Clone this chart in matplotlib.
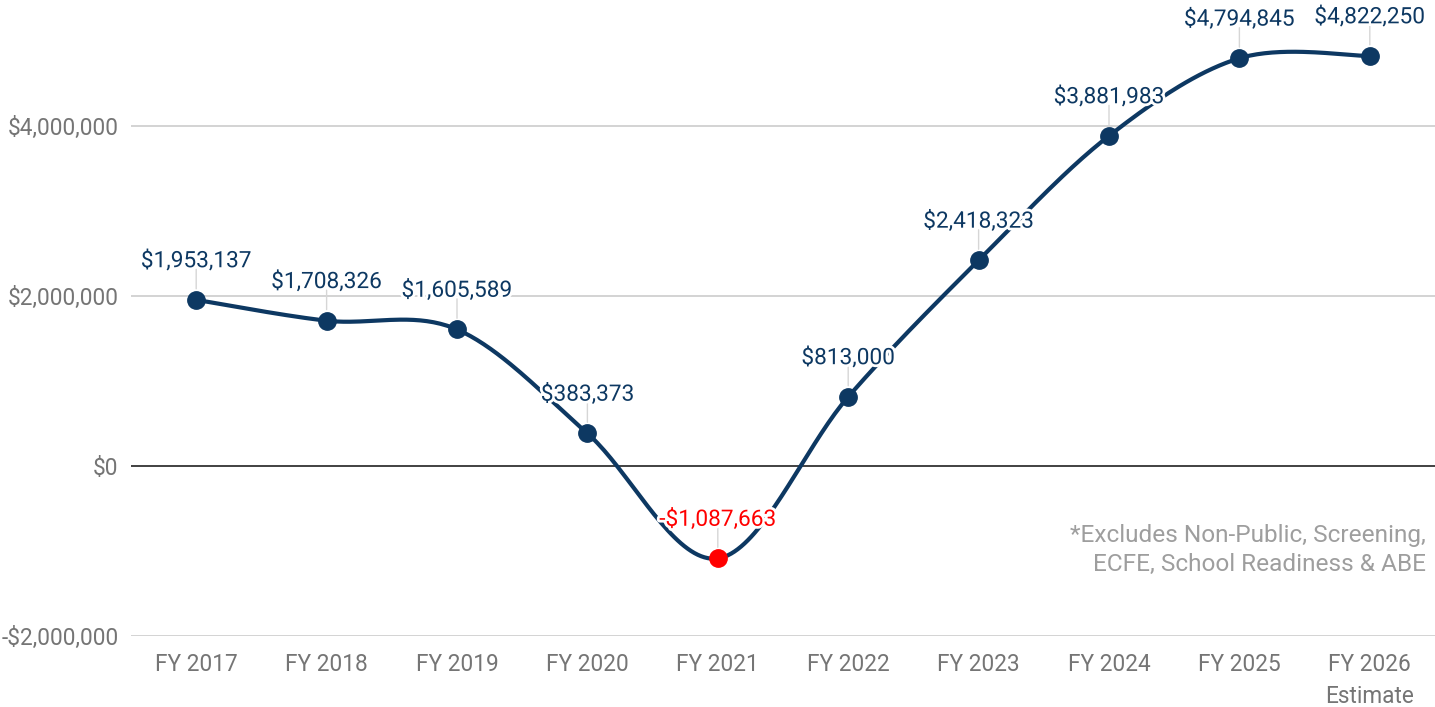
import numpy as np
import matplotlib
matplotlib.use("Agg")
import matplotlib.pyplot as plt
import matplotlib.patheffects as pe
from matplotlib.ticker import FuncFormatter

categories = ["FY 2017", "FY 2018", "FY 2019", "FY 2020", "FY 2021",
              "FY 2022", "FY 2023", "FY 2024", "FY 2025", "FY 2026\nEstimate"]
values = [1953137, 1708326, 1605589, 383373, -1087663,
          813000, 2418323, 3881983, 4794845, 4822250]
yticks = [-2000000, 0, 2000000, 4000000]
note = "*Excludes Non-Public, Screening,\nECFE, School Readiness & ABE"

NAVY = "#0d3862"
RED = "#ff0000"
GRID = "#cccccc"
TICK = "#757575"

plt.rcParams['font.family'] = ['Roboto', 'DejaVu Sans']

fig = plt.figure(figsize=(14.35, 7.07), dpi=100)
ax = fig.add_axes([131/1435, 71/707, 1 - 131/1435, 1 - 71/707])
ax.set_xlim(-0.5, len(values) - 0.5)
ax.set_ylim(-2000000, 5480000)

# smooth curve (cardinal spline computed in display-proportional units)
x = np.arange(len(values), dtype=float)
y = np.array(values, dtype=float)
sx, sy = 130.5, 85e-6
P = np.column_stack([x * sx, y * sy])
n = len(P)
T = np.zeros_like(P)
for i in range(n):
    a = P[max(i - 1, 0)]
    b = P[min(i + 1, n - 1)]
    T[i] = (b - a) / 2.0
pts = []
tt = np.linspace(0, 1, 40)
for i in range(n - 1):
    p0, p3 = P[i], P[i + 1]
    p1 = p0 + T[i] / 3.0
    p2 = p3 - T[i + 1] / 3.0
    for t in tt:
        q = ((1 - t) ** 3) * p0 + 3 * ((1 - t) ** 2) * t * p1 + 3 * (1 - t) * t ** 2 * p2 + t ** 3 * p3
        pts.append(q)
pts = np.array(pts)

for yt in yticks:
    if yt == 0:
        ax.axhline(yt, color="#333333", lw=1.3, zorder=1)
    else:
        ax.axhline(yt, color=GRID, lw=1.2, zorder=1)

ax.plot(pts[:, 0] / sx, pts[:, 1] / sy, color=NAVY, lw=3.0, zorder=3,
        solid_capstyle='round')

colors = [RED if v < 0 else NAVY for v in values]
for xi, v, c in zip(x, values, colors):
    ax.annotate("", xy=(xi, v), xytext=(0, 22), textcoords="offset points",
                arrowprops=dict(arrowstyle='-', color="#d6d6d6", lw=1.0,
                                shrinkA=0, shrinkB=8), zorder=2)
    ax.plot([xi], [v], 'o', ms=12.5, color=c, mec=c, zorder=5)
    lab = ("-$" if v < 0 else "$") + f"{abs(v):,}"
    ax.annotate(lab, xy=(xi, v), xytext=(0, 23.5), textcoords="offset points",
                ha='center', va='baseline', fontsize=16.3, color=c, zorder=6,
                path_effects=[pe.withStroke(linewidth=4, foreground='white')])

ax.set_yticks(yticks)
ax.yaxis.set_major_formatter(FuncFormatter(
    lambda v, p: ("-$" if v < 0 else "$") + f"{abs(int(v)):,}"))
ax.set_xticks(x)
ax.set_xticklabels(categories, linespacing=1.5)
ax.tick_params(axis='both', length=0, labelsize=16.3, labelcolor=TICK)
ax.tick_params(axis='y', pad=9)
ax.tick_params(axis='x', pad=12)
for s in ax.spines.values():
    s.set_visible(False)
ax.grid(False)

ax.text(0.993, 0.135, note, transform=ax.transAxes, ha='right', va='center',
        fontsize=17.6, color="#9e9e9e", linespacing=1.3)

fig.savefig("out.png", dpi=100)
